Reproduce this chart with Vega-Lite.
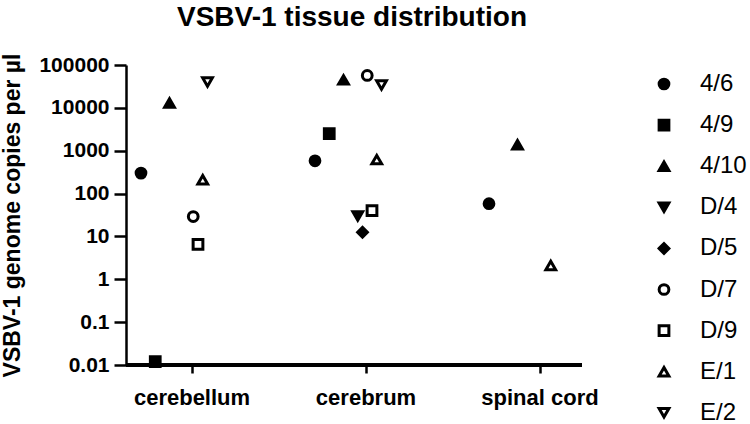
{
  "$schema": "https://vega.github.io/schema/vega-lite/v6.json",
  "width": 456,
  "height": 300,
  "autosize": "none",
  "padding": {"left": 126, "top": 65, "right": 168, "bottom": 59},
  "background": "white",
  "config": {
    "font": "Liberation Sans",
    "view": {"stroke": null},
    "legend": {"symbolStrokeWidth": 3}
  },
  "title": {
    "text": "VSBV-1 tissue distribution",
    "fontSize": 28,
    "fontWeight": "bold",
    "color": "black",
    "anchor": "middle",
    "offset": 21,
    "dx": -2
  },
  "data": {
    "values": [
      {"tissue": "cerebellum", "series": "4/6", "copies": 300},
      {"tissue": "cerebellum", "series": "4/9", "copies": 0.012},
      {"tissue": "cerebellum", "series": "4/10", "copies": 13000},
      {"tissue": "cerebellum", "series": "D/7", "copies": 29},
      {"tissue": "cerebellum", "series": "D/9", "copies": 6.5},
      {"tissue": "cerebellum", "series": "E/1", "copies": 210},
      {"tissue": "cerebellum", "series": "E/2", "copies": 40000},
      {"tissue": "cerebrum", "series": "4/6", "copies": 580},
      {"tissue": "cerebrum", "series": "4/9", "copies": 2500},
      {"tissue": "cerebrum", "series": "4/10", "copies": 45000},
      {"tissue": "cerebrum", "series": "D/4", "copies": 30},
      {"tissue": "cerebrum", "series": "D/5", "copies": 12.5},
      {"tissue": "cerebrum", "series": "D/7", "copies": 57000},
      {"tissue": "cerebrum", "series": "D/9", "copies": 40},
      {"tissue": "cerebrum", "series": "E/1", "copies": 620},
      {"tissue": "cerebrum", "series": "E/2", "copies": 34000},
      {"tissue": "spinal cord", "series": "4/6", "copies": 58},
      {"tissue": "spinal cord", "series": "4/10", "copies": 1380},
      {"tissue": "spinal cord", "series": "E/1", "copies": 2.1}
    ]
  },
  "layer": [
    {
      "mark": {"type": "rule", "color": "black", "strokeWidth": 2.5},
      "encoding": {"y": {"datum": 0.01, "type": "quantitative"}}
    },
    {
      "mark": {"type": "point", "size": 95, "strokeWidth": 3, "opacity": 1, "filled": false},
      "encoding": {
        "x": {
          "field": "tissue",
          "type": "nominal",
          "scale": {"type": "band", "domain": ["cerebellum", "cerebrum", "spinal cord"], "range": [-21, 501], "paddingInner": 0, "paddingOuter": 0},
          "axis": {
            "title": null,
            "domain": false,
            "labelAngle": 0,
            "labelFontSize": 22,
            "labelFontWeight": "bold",
            "labelColor": "black",
            "tickSize": 8,
            "tickWidth": 2.5,
            "tickColor": "black",
            "labelPadding": 14
          }
        },
        "xOffset": {
          "field": "series",
          "type": "nominal",
          "scale": {
            "type": "point",
            "padding": 0,
            "domain": ["4/6", "gap a", "gap b", "4/9", "gap c", "gap d", "4/10", "gap e", "gap f", "D/4", "D/5", "D/7", "D/9", "E/1", "E/2"],
            "range": [36, 102.5]
          }
        },
        "y": {
          "field": "copies",
          "type": "quantitative",
          "scale": {"type": "log", "domain": [0.01, 100000]},
          "axis": {
            "title": "VSBV-1 genome copies per µl",
            "titleFontSize": 23,
            "titleFontWeight": "bold",
            "titleColor": "black",
            "titleX": -114,
            "titleY": 150,
            "titleAngle": -90,
            "titleAlign": "center",
            "titleBaseline": "middle",
            "values": [0.01, 0.1, 1, 10, 100, 1000, 10000, 100000],
            "format": "~g",
            "grid": false,
            "domain": true,
            "domainColor": "black",
            "domainWidth": 2.5,
            "tickColor": "black",
            "tickWidth": 2.5,
            "tickSize": 12,
            "labelFontSize": 21,
            "labelFontWeight": "bold",
            "labelColor": "black",
            "labelPadding": 5
          }
        },
        "shape": {
          "field": "series",
          "type": "nominal",
          "scale": {
            "domain": ["4/6", "4/9", "4/10", "D/4", "D/5", "D/7", "D/9", "E/1", "E/2"],
            "range": ["circle", "square", "triangle-up", "triangle-down", "diamond", "circle", "square", "triangle-up", "triangle-down"]
          },
          "legend": {
            "title": null,
            "orient": "none",
            "legendX": 526,
            "legendY": 7,
            "padding": 0,
            "labelFontSize": 24,
            "labelColor": "black",
            "labelOffset": 24,
            "rowPadding": 17.1,
            "symbolSize": 95,
            "symbolStrokeWidth": 3,
            "encode": {"symbols": {"update": {"strokeWidth": {"value": 3}}}}
          }
        },
        "fill": {
          "field": "series",
          "type": "nominal",
          "scale": {
            "domain": ["4/6", "4/9", "4/10", "D/4", "D/5", "D/7", "D/9", "E/1", "E/2"],
            "range": ["black", "black", "black", "black", "black", "white", "white", "white", "white"]
          },
          "legend": {
            "title": null,
            "orient": "none",
            "legendX": 526,
            "legendY": 7,
            "padding": 0,
            "labelFontSize": 24,
            "labelColor": "black",
            "labelOffset": 24,
            "rowPadding": 17.1,
            "symbolSize": 95,
            "symbolStrokeWidth": 3,
            "encode": {"symbols": {"update": {"strokeWidth": {"value": 3}}}}
          }
        },
        "stroke": {
          "field": "series",
          "type": "nominal",
          "scale": {
            "domain": ["4/6", "4/9", "4/10", "D/4", "D/5", "D/7", "D/9", "E/1", "E/2"],
            "range": ["black", "black", "black", "black", "black", "black", "black", "black", "black"]
          },
          "legend": {
            "title": null,
            "orient": "none",
            "legendX": 526,
            "legendY": 7,
            "padding": 0,
            "labelFontSize": 24,
            "labelColor": "black",
            "labelOffset": 24,
            "rowPadding": 17.1,
            "symbolSize": 95,
            "symbolStrokeWidth": 3,
            "encode": {"symbols": {"update": {"strokeWidth": {"value": 3}}}}
          }
        }
      }
    }
  ]
}
